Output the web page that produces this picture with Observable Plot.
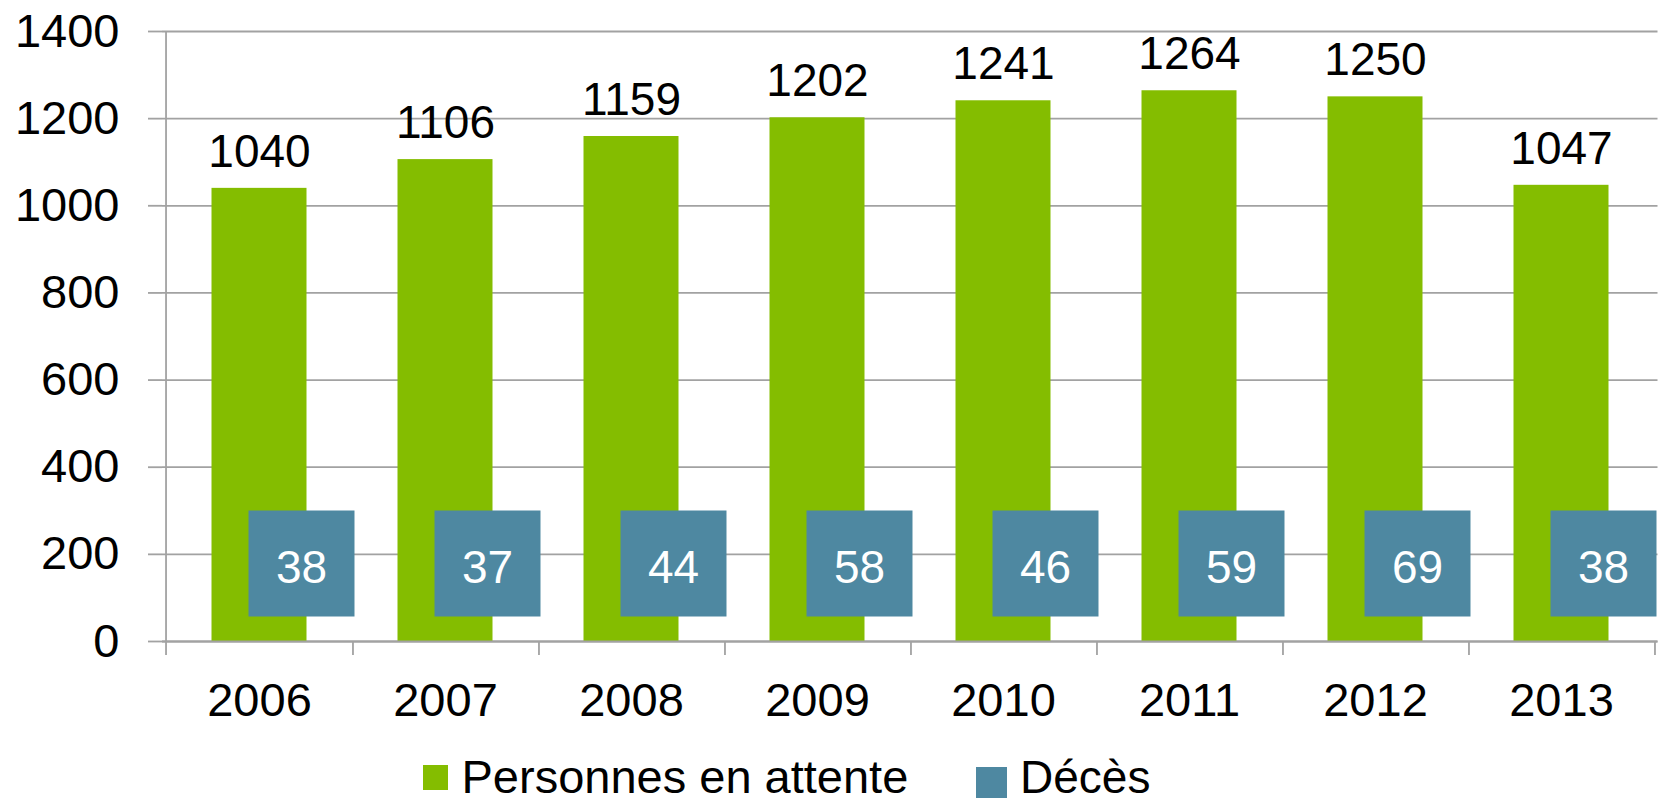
<!DOCTYPE html>
<html>
<head>
<meta charset="utf-8">
<script src="https://cdn.jsdelivr.net/npm/d3@7"></script>
<script src="https://cdn.jsdelivr.net/npm/@observablehq/plot@0.6"></script>
<style>
  html, body { margin: 0; padding: 0; background: #fff; }
  body { font-family: "Liberation Sans", Arial, sans-serif; width: 1663px; overflow: hidden; }
  #chart svg { display: block; }
  #legend { position: relative; width: 1663px; height: 57px; }
  #legend .sw { position: absolute; }
  #legend .lb { position: absolute; line-height: 0.8; color: #000; white-space: nowrap; }
</style>
</head>
<body>
<div id="chart"></div>
<div id="legend"></div>
<script>
// ---- data ----
const years = ["2006", "2007", "2008", "2009", "2010", "2011", "2012", "2013"];
const personnesEnAttente = [1040, 1106, 1159, 1202, 1241, 1264, 1250, 1047];
const deces = [38, 37, 44, 58, 46, 59, 69, 38];
const yTicks = [0, 200, 400, 600, 800, 1000, 1200, 1400];
const seriesNames = ["Personnes en attente", "Décès"];
const seriesColors = ["#84bd00", "#4e88a1"];

// ---- layout / style ----
const W = 1663, H = 745, mL = 162, mR = 5.5, mT = 31, mB = 104;
const gray = "#a2a2a2";
const step = (W - mL - mR) / years.length;
const decesLabelY = 179; // vertical placement of the Décès label boxes (y units)
const font = "'Liberation Sans', Arial, sans-serif";

const rows = years.map((y, i) => ({ year: y, attente: personnesEnAttente[i], deces: deces[i] }));

const chart = Plot.plot({
  width: W,
  height: H,
  marginLeft: mL,
  marginRight: mR,
  marginTop: mT,
  marginBottom: mB,
  style: { fontFamily: font, fontSize: "46px", color: "#000", background: "#fff", overflow: "visible" },
  x: { type: "band", domain: years, padding: 0 },
  y: { domain: [0, 1400] },
  marks: [
    Plot.gridY(yTicks, { stroke: gray, strokeOpacity: 1, strokeWidth: 1.8 }),
    Plot.axisY(yTicks, { tickSize: 14, tickPadding: 29, tickFormat: d => String(d), stroke: gray, strokeOpacity: 1, strokeWidth: 1.8, fontSize: 47, fill: "#000", label: null }),
    Plot.barY(rows, { x: "year", y: "attente", fill: seriesColors[0], insetLeft: 45.5, insetRight: 45.5 }),
    Plot.ruleY([0], { stroke: gray, strokeWidth: 1.8 }),
    Plot.ruleX([years[0]], { x: d => d, dx: -step / 2, y1: -32, y2: 1400, stroke: gray, strokeWidth: 1.8 }),
    Plot.ruleX(years, { x: d => d, dx: step / 2, y1: -32, y2: 0, stroke: gray, strokeWidth: 1.8 }),
    Plot.axisX({ tickSize: 0, tickPadding: 41.5, fontSize: 47, fill: "#000", label: null }),
    Plot.text(rows, { x: "year", y: "attente", text: d => String(d.attente), dy: -36.3, fontSize: 46, fill: "#000" }),
    Plot.dot(rows, { x: "year", y: () => decesLabelY, dx: 42, symbol: "square", r: 59.8, fill: seriesColors[1], stroke: "none" }),
    Plot.text(rows, { x: "year", y: () => decesLabelY, dx: 42, dy: 4.5, text: d => String(d.deces), fontSize: 46, fill: "#ffffff" })
  ]
});
document.getElementById("chart").appendChild(chart);

// ---- legend (HTML, below the SVG) ----
const legend = document.getElementById("legend");
const legendItems = [
  { name: seriesNames[0], color: seriesColors[0], sw: { left: 423, top: 20, size: 25 }, lb: { left: 461.5, top: 13.2, fs: 47 } },
  { name: seriesNames[1], color: seriesColors[1], sw: { left: 976, top: 22, size: 31 }, lb: { left: 1020, top: 13.7, fs: 46 } }
];
for (const it of legendItems) {
  const s = document.createElement("div");
  s.className = "sw";
  s.style.left = it.sw.left + "px";
  s.style.top = it.sw.top + "px";
  s.style.width = it.sw.size + "px";
  s.style.height = it.sw.size + "px";
  s.style.background = it.color;
  legend.appendChild(s);
  const t = document.createElement("div");
  t.className = "lb";
  t.style.left = it.lb.left + "px";
  t.style.top = it.lb.top + "px";
  t.style.fontSize = it.lb.fs + "px";
  t.textContent = it.name;
  legend.appendChild(t);
}
</script>
</body>
</html>
